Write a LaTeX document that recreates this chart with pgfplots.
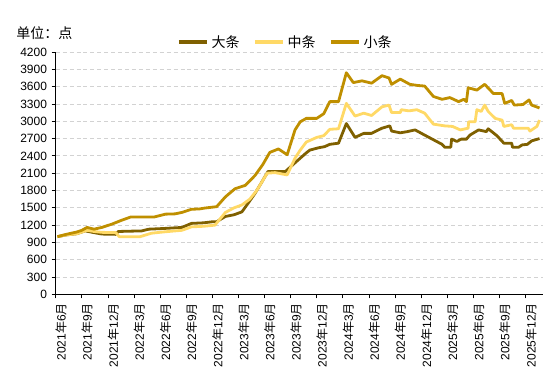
\documentclass[border=0pt]{standalone}
\usepackage{pgfplots}
\pgfplotsset{compat=1.18}
\usepackage{fontspec}
\setmainfont{Liberation Sans}
\newfontfamily\cjk{Noto Sans CJK SC}
\definecolor{cda}{RGB}{127,96,0}
\definecolor{czh}{RGB}{255,217,102}
\definecolor{cxi}{RGB}{191,143,0}
\definecolor{gridc}{RGB}{210,210,210}
\newcommand{\ym}[2]{#1{\cjk 年}#2{\cjk 月}}
\begin{document}
\begin{tikzpicture}
\path[use as bounding box] (-41.8pt,-66.45pt) rectangle (377.5pt,220.8pt);
\begin{axis}[
  at={(0,0)}, anchor=south west,
  scale only axis, width=365.5pt, height=181.8pt,
  xmin=0, xmax=56, ymin=0, ymax=4200,
  axis lines=left, axis line style={-, black, line width=0.6pt},
  tick align=outside, major tick length=3pt,
  tick style={black, line width=0.6pt},
  xtick={0,3,...,54},
  xticklabels={\ym{2021}{6},\ym{2021}{9},\ym{2021}{12},\ym{2022}{3},\ym{2022}{6},\ym{2022}{9},\ym{2022}{12},\ym{2023}{3},\ym{2023}{6},\ym{2023}{9},\ym{2023}{12},\ym{2024}{3},\ym{2024}{6},\ym{2024}{9},\ym{2024}{12},\ym{2025}{3},\ym{2025}{6},\ym{2025}{9},\ym{2025}{12}},
  xticklabel style={font=\fontsize{9}{10}\selectfont, xshift=4pt, rotate=90, anchor=east},
  ytick={0,300,...,4200},
  yticklabel style={font=\fontsize{9}{10}\selectfont},
  /pgf/number format/assume math mode=true,
  /pgf/number format/1000 sep={},
  ymajorgrids, grid style={gridc, dash pattern=on 3pt off 2.2pt, line width=0.6pt},
  legend columns=3,
  legend style={draw=none, fill=none, at={(0.4717,1.040)}, anchor=center,
    font=\cjk\fontsize{10.5}{12}\selectfont, inner sep=0pt,
    /tikz/every even column/.append style={column sep=8pt}},
  legend image code/.code={\draw[#1, line width=3pt] (0pt,0pt) -- (21pt,0pt);},
  every axis plot/.append style={line width=2.1pt, line join=round, mark=none},
]
\addplot[cda] coordinates {
(0.2,1000) (1.2,1030) (2.4,1050) (3.4,1100) (4.4,1070) (5.3,1045) (6.9,1040) (7.2,1090)
(9.9,1100) (10.7,1130) (12.2,1140) (14.5,1160) (15.6,1230) (17.0,1240) (18.1,1260) (18.5,1260)
(19.5,1350) (20.5,1380) (21.4,1430) (22.3,1620) (22.9,1750) (23.5,1900) (24.4,2130) (26.4,2130)
(27.5,2280) (28.7,2440) (29.2,2500) (30.2,2540) (30.9,2560) (31.5,2600) (32.5,2620) (33.4,2960)
(34.4,2720) (35.4,2790) (36.3,2790) (37.5,2880) (38.4,2920) (38.6,2830) (39.6,2800) (40.4,2820)
(41.3,2850) (42.4,2760) (43.4,2680) (44.4,2600) (44.7,2550) (45.4,2550) (45.5,2690) (46.1,2650)
(46.6,2690) (47.2,2690) (47.6,2760) (48.6,2850) (49.5,2820) (49.7,2870) (50.7,2750) (51.5,2620)
(52.4,2620) (52.5,2550) (53.2,2550) (53.6,2590) (54.2,2600) (54.7,2660) (55.6,2700)
};
\addlegendentry{大条}
\addplot[czh] coordinates {
(0.2,1000) (1.2,1030) (2.4,1050) (3.6,1110) (4.4,1090) (5.3,1075) (6.9,1070) (7.3,1000)
(8.5,1000) (9.7,1000) (11.0,1060) (12.6,1085) (14.5,1110) (15.6,1170) (17.0,1180) (18.3,1200)
(19.5,1420) (20.5,1500) (21.4,1550) (22.3,1650) (23.1,1800) (24.3,2100) (25.2,2110) (26.6,2070)
(27.5,2360) (28.1,2500) (28.8,2640) (30.0,2720) (30.8,2750) (31.5,2860) (32.5,2870) (33.4,3310)
(34.4,3090) (35.4,3140) (36.3,3100) (37.5,3250) (38.3,3280) (38.6,3150) (39.6,3150) (39.7,3200)
(40.6,3180) (41.5,3200) (42.4,3140) (43.4,2950) (44.7,2920) (45.6,2910) (46.5,2850) (47.4,2880)
(47.45,2990) (48.2,2990) (48.4,3200) (48.9,3170) (49.3,3280) (49.7,3170) (50.5,3050) (51.3,3020)
(51.5,2910) (52.4,2940) (52.6,2880) (54.3,2880) (54.5,2830) (55.3,2910) (55.6,3020)
};
\addlegendentry{中条}
\addplot[cxi] coordinates {
(0.2,1000) (1.2,1040) (2.4,1080) (3.0,1110) (3.6,1160) (4.4,1130) (5.3,1160) (6.5,1220)
(7.5,1280) (8.6,1340) (11.3,1340) (12.6,1390) (13.7,1395) (14.5,1420) (15.6,1475) (16.5,1480)
(17.1,1495) (18.5,1520) (19.5,1690) (20.6,1830) (21.8,1890) (22.9,2060) (23.8,2250) (24.6,2460)
(25.6,2520) (26.6,2420) (27.5,2850) (28.1,2990) (28.8,3050) (30.0,3050) (30.8,3130) (31.5,3340)
(32.5,3340) (33.4,3840) (34.2,3670) (35.2,3700) (36.3,3660) (37.5,3790) (38.3,3750) (38.6,3640)
(39.6,3730) (40.7,3640) (41.6,3620) (42.4,3610) (43.4,3430) (44.4,3380) (45.3,3410) (46.3,3340)
(46.9,3380) (47.2,3340) (47.4,3580) (48.4,3540) (49.3,3640) (50.3,3480) (51.3,3480) (51.6,3310)
(52.4,3360) (52.7,3280) (53.7,3290) (54.4,3370) (54.7,3280) (55.6,3230)
};
\addlegendentry{小条}
\end{axis}
\node[anchor=west, font=\cjk\fontsize{10.5}{12}\selectfont, inner sep=0pt] at (-29.8pt,195.8pt) {单位：点};
\end{tikzpicture}
\end{document}
